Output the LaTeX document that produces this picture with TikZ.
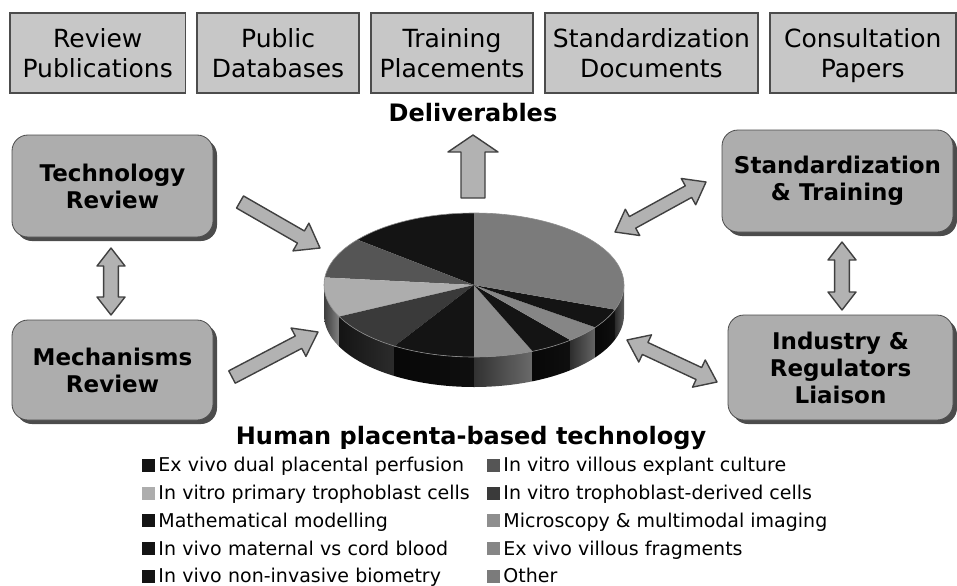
\documentclass[tikz,border=0pt]{standalone}
\usepackage{fontspec}
\setmainfont{DejaVu Sans}
\usepackage{tikz}
\usetikzlibrary{calc,shadows}

\definecolor{cblack}{HTML}{141414}
\definecolor{cexplant}{HTML}{555555}
\definecolor{cprimary}{HTML}{ADADAD}
\definecolor{cderived}{HTML}{3A3A3A}
\definecolor{cmicro}{HTML}{8E8E8E}
\definecolor{cfrag}{HTML}{868686}
\definecolor{cother}{HTML}{7B7B7B}

\newcommand{\legsq}[1]{\textcolor{#1}{\rule{6.5pt}{6.5pt}}\hspace{1.5pt}}

% block arrows: from, to, half shaft, half head, head length
\newcommand{\onearrow}[5]{%
  \coordinate (hb) at ($(#2)!#5!(#1)$);
  \draw[blockarr] ($(#1)!#3!90:(#2)$) -- ($(hb)!#3!-90:(#1)$) -- ($(hb)!#4!-90:(#1)$) -- (#2)
    -- ($(hb)!#4!90:(#1)$) -- ($(hb)!#3!90:(#1)$) -- ($(#1)!#3!-90:(#2)$) -- cycle;}
\newcommand{\twoarrow}[5]{%
  \coordinate (ha) at ($(#1)!#5!(#2)$);
  \coordinate (hb) at ($(#2)!#5!(#1)$);
  \draw[blockarr] (#1) -- ($(ha)!#4!90:(#2)$) -- ($(ha)!#3!90:(#2)$) -- ($(hb)!#3!-90:(#1)$)
    -- ($(hb)!#4!-90:(#1)$) -- (#2) -- ($(hb)!#4!90:(#1)$) -- ($(hb)!#3!90:(#1)$)
    -- ($(ha)!#3!-90:(#2)$) -- ($(ha)!#4!-90:(#2)$) -- cycle;}

\begin{document}
\begin{tikzpicture}[x=0.5pt,y=0.5pt,
  outbox/.style={draw=black!70,fill=black!22,line width=0.7pt,minimum height=40pt,inner sep=0pt,
    align=center,text depth=0pt,font=\fontsize{12.5}{15}\selectfont},
  procbox/.style={draw=black!70,fill=black!32,rounded corners=8pt,inner sep=0pt,align=center,
    font=\bfseries\fontsize{11.5}{13.5}\selectfont,
    drop shadow={shadow xshift=2pt,shadow yshift=-2pt,fill=black!70,opacity=1}},
  blockarr/.style={draw=black!75,fill=black!30,line width=0.7pt,line join=round},
  legtext/.style={inner sep=0pt,anchor=base west,text height=7pt,text depth=2pt,
    font=\fontsize{9.5}{11}\selectfont},
  title/.style={font=\bfseries\fontsize{12}{14}\selectfont}]
\useasboundingbox (0,0) rectangle (957,585);

% deliverables
\node (outputs) [matrix,ampersand replacement=\&,column sep=5.25pt,nodes={outbox}] at (483,532)
    {
\node (revpub) [minimum width=87.5pt] {Review\\Publications}; \& \node (pubdb) [minimum width=81pt] {Public\\Databases}; \&
\node (trainpl) [minimum width=81pt] {Training\\Placements}; \& \node (stddoc) [minimum width=106.5pt] {Standardization\\Documents}; \&
\node (consult) [minimum width=93pt] {Consultation\\Papers}; \\
};
\node (deliv) [title] at (473,472) {Deliverables};

% work packages
\node (techrev) [procbox,minimum width=100.5pt,minimum height=51pt] at (112.5,399) {Technology\\Review};
\node (mechrev) [procbox,minimum width=100.5pt,minimum height=50pt] at (112.5,215) {Mechanisms\\Review};
\node (stdtrain) [procbox,minimum width=115.5pt,minimum height=51pt] at (837.5,404) {Standardization\\\& Training};
\node (industry) [procbox,minimum width=112.5pt,minimum height=52.5pt] at (840.5,217.5) {Industry \&\\Regulators\\Liaison};

% pie
\coordinate (pie) at (474,300);
\foreach \sa/\sb/\col in {180/206/cprimary,206/238/cderived,238/270/cblack,270/293/cmicro,
    293/310/cblack,310/324/cfrag,324/340/cblack,340/360/cother}
  \shade[left color=\col!35!black,right color=\col!75!black] ([shift={(\sa:150 and 72)}]pie)
    arc[start angle=\sa,end angle=\sb,x radius=150,y radius=72]
    -- ++(0,-30) arc[start angle=\sb,end angle=\sa,x radius=150,y radius=72] -- cycle;
\foreach \sa/\sb/\col in {90/141/cblack,141/174/cexplant,174/206/cprimary,206/238/cderived,238/270/cblack,
    270/293/cmicro,293/310/cblack,310/324/cfrag,324/340/cblack,340/450/cother}
  \fill[\col] (pie) -- ++(\sa:150 and 72) arc[start angle=\sa,end angle=\sb,x radius=150,y radius=72] -- cycle;
\draw[black!45,line width=0.3pt] (pie) ellipse[x radius=150,y radius=72];
\node (pietitle) [title,anchor=base] at (471,141) {Human placenta-based technology};

% arrows
\coordinate (up-s) at (473,387); \coordinate (up-e) at (473,450);
\coordinate (tr-out) at (240,383); \coordinate (tr-in) at (320,337);
\coordinate (mr-out) at (232,208); \coordinate (mr-in) at (318,253);
\coordinate (st-pie) at (615,353); \coordinate (st-box) at (706,403);
\coordinate (in-pie) at (627,245); \coordinate (in-box) at (717,203);
\coordinate (tm-top) at (111,337); \coordinate (tm-bot) at (111,270);
\coordinate (si-top) at (842,343); \coordinate (si-bot) at (842,275);
\onearrow{up-s}{up-e}{6pt}{12.5pt}{8.5pt}
\onearrow{tr-out}{tr-in}{3.5pt}{8pt}{11pt}
\onearrow{mr-out}{mr-in}{3.5pt}{8pt}{11pt}
\twoarrow{st-pie}{st-box}{3.3pt}{7.5pt}{10pt}
\twoarrow{in-pie}{in-box}{3.3pt}{7.5pt}{10pt}
\twoarrow{tm-top}{tm-bot}{3.7pt}{7pt}{9pt}
\twoarrow{si-top}{si-bot}{3.7pt}{7pt}{9pt}

% legend
\node (legend) [matrix,ampersand replacement=\&,anchor=north west,inner sep=0pt,column sep=0pt,row sep=4.85pt,
    nodes={legtext},column 1/.style={nodes={text width=172.5pt,align=left}}] at (142,127.5)
    {
\node (lperf) {\legsq{cblack}Ex vivo dual placental perfusion}; \& \node (lexpl) {\legsq{cexplant}In vitro villous explant culture}; \\
\node (lprim) {\legsq{cprimary}In vitro primary trophoblast cells}; \& \node (lderiv) {\legsq{cderived}In vitro trophoblast-derived cells}; \\
\node (lmath) {\legsq{cblack}Mathematical modelling}; \& \node (lmicro) {\legsq{cmicro}Microscopy {\char38} multimodal imaging}; \\
\node (lcord) {\legsq{cblack}In vivo maternal vs cord blood}; \& \node (lfrag) {\legsq{cfrag}Ex vivo villous fragments}; \\
\node (lbiom) {\legsq{cblack}In vivo non-invasive biometry}; \& \node (lother) {\legsq{cother}Other}; \\
};
\end{tikzpicture}
\end{document}
